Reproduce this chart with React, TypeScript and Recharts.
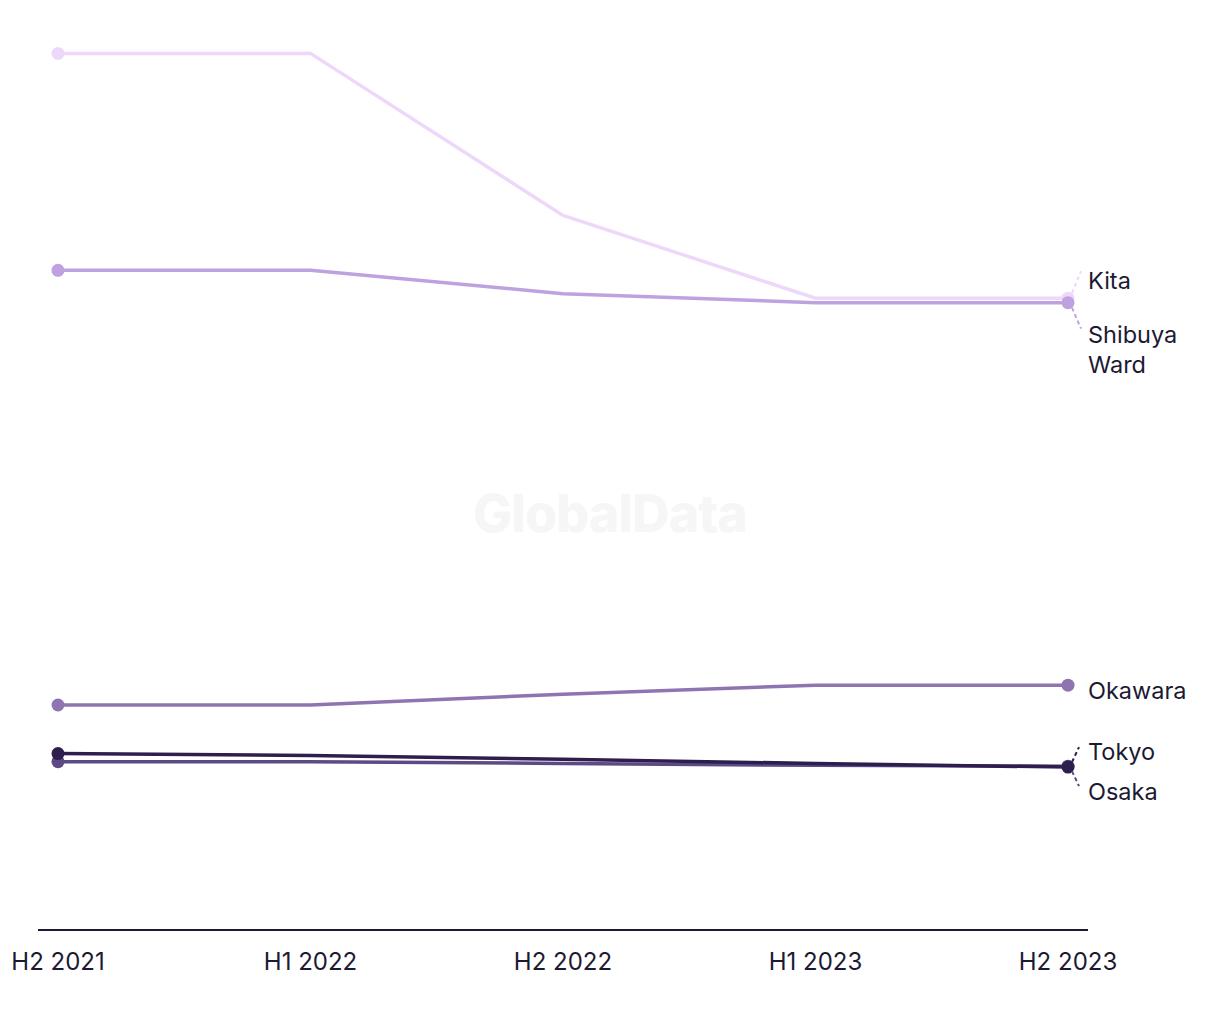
import React from 'react';
import { LineChart, Line, XAxis, YAxis, LabelList } from 'recharts';

// Half-year periods on the x axis
const periods = ['H2 2021', 'H1 2022', 'H2 2022', 'H1 2023', 'H2 2023'];

// Index values per location
const kita = [97.4, 97.4, 79.4, 70.2, 70.2];
const shibuyaWard = [73.3, 73.3, 70.7, 69.7, 69.7];
const okawara = [25.0, 25.0, 26.2, 27.2, 27.2];
const osaka = [18.7, 18.7, 18.5, 18.3, 18.2];
const tokyo = [19.6, 19.4, 18.97, 18.5, 18.1];

const TEXT = '#1c1a33';
const FONT = 'Inter, "Noto Sans", sans-serif';

interface SeriesDef {
  key: string;
  name: string[];
  values: number[];
  color: string;
  // label placement relative to the last point
  dy: number;
  leader?: [number, number, number, number];
}

const series: SeriesDef[] = [
  { key: 'kita', name: ['Kita'], values: kita, color: '#eed8fa', dy: -18, leader: [4, -5, 13, -27] },
  { key: 'shibuya', name: ['Shibuya', 'Ward'], values: shibuyaWard, color: '#bea2e0', dy: 31, leader: [4, 5, 13, 26] },
  { key: 'okawara', name: ['Okawara'], values: okawara, color: '#8e75b1', dy: 5 },
  { key: 'osaka', name: ['Osaka'], values: osaka, color: '#5c4a86', dy: 25, leader: [4, 5, 11, 20] },
  { key: 'tokyo', name: ['Tokyo'], values: tokyo, color: '#2e1e4e', dy: -16, leader: [4, -5, 11, -20] },
];

const data = periods.map((p, i) => {
  const row: Record<string, string | number> = { period: p };
  series.forEach(s => {
    row[s.key] = s.values[i];
  });
  return row;
});

// dots only on the first and last period
const makeDot = (color: string) => (props: any) => {
  const { cx, cy, index } = props;
  if (index !== 0 && index !== periods.length - 1) return <g key={index} />;
  return <circle key={index} cx={cx} cy={cy} r={6.5} fill={color} />;
};

const makeLabel = (s: SeriesDef) => (props: any) => {
  const { x, y, index } = props;
  if (index !== periods.length - 1) return null;
  const tx = x + 20;
  return (
    <g>
      {s.leader && (
        <line
          x1={x + s.leader[0]}
          y1={y + s.leader[1]}
          x2={x + s.leader[2]}
          y2={y + s.leader[3]}
          stroke={s.color}
          strokeWidth={2}
          strokeDasharray="4 3"
        />
      )}
      <text x={tx} y={y + s.dy} fill={TEXT} fontSize={23.5} fontFamily={FONT} dominantBaseline="central">
        {s.name.map((n, i) => (
          <tspan key={n} x={tx} dy={i === 0 ? 0 : 30}>{n}</tspan>
        ))}
      </text>
    </g>
  );
};

export default function App() {
  return (
    <div style={{ position: 'relative', width: 1204, height: 1004, background: '#fff' }}>
      <div
        style={{
          position: 'absolute',
          left: 0,
          width: 1204,
          top: 474,
          textAlign: 'center',
          fontFamily: FONT,
          fontWeight: 800,
          fontSize: 52,
          color: '#f6f6f6',
          letterSpacing: -1,
        }}
      >
        GlobalData
      </div>
      <div style={{ position: 'absolute', left: 0, top: 0 }}>
        <LineChart width={1204} height={1004} data={data} margin={{ top: 22, right: 124, left: 30, bottom: 0 }}>
          <XAxis
            dataKey="period"
            height={82}
            padding={{ left: 20, right: 20 }}
            axisLine={{ stroke: TEXT, strokeWidth: 2 }}
            tickLine={false}
            tickMargin={17}
            tick={{ fill: TEXT, fontSize: 24, fontFamily: FONT }}
            interval={0}
          />
          <YAxis hide domain={[0, 100]} />
          {series.map(s => (
            <Line
              key={s.key}
              dataKey={s.key}
              type="linear"
              stroke={s.color}
              strokeWidth={3.5}
              dot={makeDot(s.color)}
              activeDot={false}
              isAnimationActive={false}
            >
              <LabelList dataKey={s.key} content={makeLabel(s)} />
            </Line>
          ))}
        </LineChart>
      </div>
    </div>
  );
}
